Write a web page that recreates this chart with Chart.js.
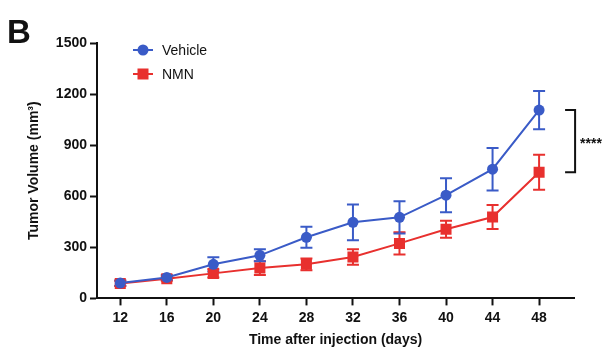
<!DOCTYPE html>
<html><head><meta charset="utf-8">
<script src="https://cdn.jsdelivr.net/npm/chart.js@4/dist/chart.umd.min.js"></script>
<style>html,body{margin:0;padding:0;background:#fff}#wrap{width:611px;height:351px;position:relative}</style>
</head><body><div id="wrap"><canvas id="c"></canvas></div>
<script>
const days=[12,16,20,24,28,32,36,40,44,48];
const vehicleMean=[90,123,200,253,359,447,476,606,759,1106];
const vehicleErr=[15,15,42,35,62,105,95,100,125,112];
const nmnMean=[88,115,147,178,200,243,323,406,478,741];
const nmnErr=[15,12,24,40,35,45,65,50,70,103];
const yTicks=[0,300,600,900,1200,1500];
const xTicks=[12,16,20,24,28,32,36,40,44,48];
const seriesNames=['Vehicle','NMN'];
const sigLabel='****';
const panelLabel='B';

const BLUE='#3a5bc7', RED='#e8302e';
const FONT="'Liberation Sans', Arial, sans-serif";
const errs=[vehicleErr,nmnErr];

const errorBars={
  id:'errorBars',
  beforeDatasetsDraw(chart){
    const ctx=chart.ctx, xs=chart.scales.x, ys=chart.scales.y;
    for(let di=chart.data.datasets.length-1;di>=0;di--){
      const ds=chart.data.datasets[di];
      ctx.save();
      ctx.strokeStyle=ds.borderColor; ctx.lineWidth=2;
      ds.data.forEach((p,i)=>{
        const e=errs[di][i];
        const x=xs.getPixelForValue(p.x);
        const yt=ys.getPixelForValue(p.y+e), yb=ys.getPixelForValue(p.y-e);
        ctx.beginPath();
        ctx.moveTo(x,yt);ctx.lineTo(x,yb);
        ctx.moveTo(x-6,yt);ctx.lineTo(x+6,yt);
        ctx.moveTo(x-6,yb);ctx.lineTo(x+6,yb);
        ctx.stroke();
      });
      ctx.restore();
    }
  }
};

const extras={
  id:'extras',
  afterDraw(chart){
    const ctx=chart.ctx, xs=chart.scales.x, ys=chart.scales.y, ca=chart.chartArea;
    ctx.save();
    ctx.fillStyle='#111';
    ctx.font='bold 33px '+FONT;
    ctx.textAlign='left'; ctx.textBaseline='alphabetic';
    ctx.fillText(panelLabel,7,43);
    const lx=ca.left+36, ly=[ca.top+7, ca.top+31];
    chart.data.datasets.forEach((ds,i)=>{
      const y=ly[i];
      ctx.strokeStyle=ds.borderColor; ctx.lineWidth=2;
      ctx.beginPath();ctx.moveTo(lx,y);ctx.lineTo(lx+20,y);ctx.stroke();
      ctx.fillStyle=ds.backgroundColor;
      if(ds.pointStyle==='circle'){ctx.beginPath();ctx.arc(lx+10,y,5.5,0,Math.PI*2);ctx.fill();}
      else{ctx.fillRect(lx+4.5,y-5.5,11,11);}
      ctx.fillStyle='#111';
      ctx.font='14px '+FONT;
      ctx.textBaseline='middle';
      ctx.fillText(ds.label,lx+29,y+1);
    });
    const last=days.length-1;
    const bx=xs.getPixelForValue(days[last]);
    const yTop=ys.getPixelForValue(vehicleMean[last]);
    const yBot=ys.getPixelForValue(nmnMean[last]);
    ctx.strokeStyle='#111'; ctx.lineWidth=2;
    ctx.beginPath();
    ctx.moveTo(bx+26,yTop);ctx.lineTo(bx+36,yTop);ctx.lineTo(bx+36,yBot);ctx.lineTo(bx+26,yBot);
    ctx.stroke();
    ctx.fillStyle='#111';
    ctx.font='bold 14px '+FONT;
    ctx.textBaseline='middle';
    ctx.fillText(sigLabel,bx+41,(yTop+yBot)/2+3);
    ctx.restore();
  }
};

new Chart(document.getElementById('c'),{
  type:'line',
  data:{datasets:[
    {label:seriesNames[0],data:days.map((d,i)=>({x:d,y:vehicleMean[i]})),borderColor:BLUE,backgroundColor:BLUE,
     pointStyle:'circle',pointRadius:5.5,pointHoverRadius:5.5,borderWidth:2,pointBorderWidth:0},
    {label:seriesNames[1],data:days.map((d,i)=>({x:d,y:nmnMean[i]})),borderColor:RED,backgroundColor:RED,
     pointStyle:'rect',pointRadius:7.8,pointHoverRadius:7.8,borderWidth:2,pointBorderWidth:0}
  ]},
  plugins:[errorBars,extras],
  options:{
    responsive:true,maintainAspectRatio:false,animation:false,
    layout:{padding:{left:26,right:37,top:43,bottom:2}},
    plugins:{legend:{display:false},tooltip:{enabled:false}},
    scales:{
      x:{type:'linear',min:10,max:51,
        afterBuildTicks(s){s.ticks=xTicks.map(v=>({value:v}));},
        grid:{drawOnChartArea:false,drawTicks:true,tickLength:7,tickWidth:2,tickColor:'#111'},
        border:{color:'#111',width:2},
        ticks:{color:'#111',font:{family:FONT,size:14,weight:'bold'},padding:4,maxRotation:0,autoSkip:false,callback:v=>String(v)},
        title:{display:true,text:'Time after injection (days)',color:'#111',font:{family:FONT,size:14,weight:'bold'},padding:{top:2,bottom:0}}
      },
      y:{min:0,max:1500,
        afterBuildTicks(s){s.ticks=yTicks.map(v=>({value:v}));},
        afterFit(s){s.width=71;},
        grid:{drawOnChartArea:false,drawTicks:true,tickLength:7,tickWidth:2,tickColor:'#111'},
        border:{color:'#111',width:2},
        ticks:{color:'#111',font:{family:FONT,size:14,weight:'bold'},padding:3,callback:v=>String(v)},
        title:{display:true,text:'Tumor Volume (mm³)',color:'#111',font:{family:FONT,size:14,weight:'bold'},padding:{top:0,bottom:4}}
      }
    }
  }
});
</script></body></html>
